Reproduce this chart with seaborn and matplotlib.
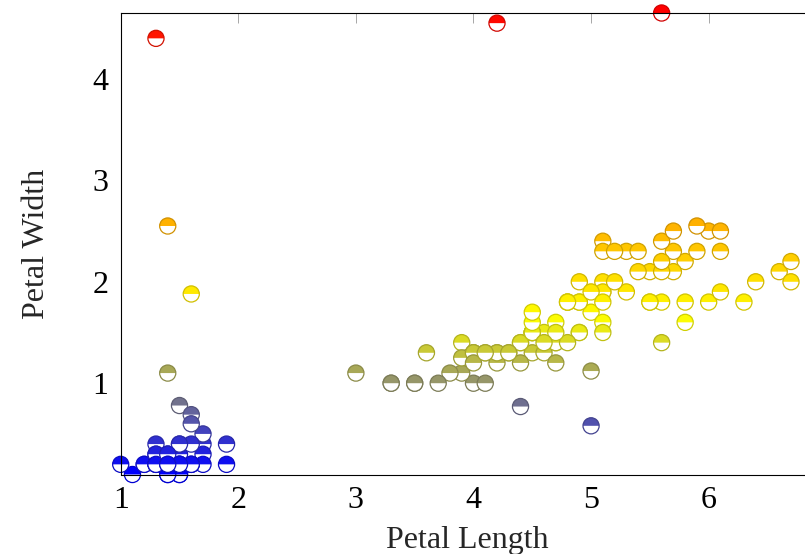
import numpy as np
import pandas as pd
import matplotlib
matplotlib.use("Agg")
import matplotlib.pyplot as plt
from matplotlib.path import Path
from matplotlib.colors import LinearSegmentedColormap
import seaborn as sns

# ---------------- data ----------------
petal_length = [
    1.4, 1.4, 1.3, 1.5, 1.4, 1.7, 1.4, 1.5, 1.4, 1.5,
    1.5, 1.6, 1.4, 1.1, 1.2, 1.5, 1.3, 1.4, 1.7, 1.5,
    1.7, 1.5, 1.0, 1.7, 1.9, 1.6, 1.6, 1.5, 1.4, 1.6,
    1.6, 1.5, 1.5, 1.4, 1.5, 1.2, 1.3, 1.4, 1.3, 1.5,
    1.3, 1.3, 1.3, 1.6, 1.9, 1.4, 1.6, 1.4, 1.5, 1.4,
    4.7, 4.5, 4.9, 4.0, 4.6, 4.5, 4.7, 3.3, 4.6, 3.9,
    3.5, 4.2, 4.0, 4.7, 3.6, 4.4, 4.5, 4.1, 4.5, 3.9,
    4.8, 4.0, 4.9, 4.7, 4.3, 4.4, 4.8, 5.0, 4.5, 3.5,
    3.8, 3.7, 3.9, 5.1, 4.5, 4.5, 4.7, 4.4, 4.1, 4.0,
    4.4, 4.6, 4.0, 3.3, 4.2, 4.2, 4.2, 4.3, 3.0, 4.1,
    6.0, 5.1, 5.9, 5.6, 5.8, 6.6, 4.5, 6.3, 5.8, 6.1,
    5.1, 5.3, 5.5, 5.0, 5.1, 5.3, 5.5, 6.7, 6.9, 5.0,
    5.7, 4.9, 6.7, 4.9, 5.7, 6.0, 4.8, 4.9, 5.6, 5.8,
    6.1, 6.4, 5.6, 5.1, 5.6, 6.1, 5.6, 5.5, 4.8, 5.4,
    5.6, 5.1, 5.1, 5.9, 5.7, 5.2, 5.0, 5.2, 5.4, 5.1,
]
petal_width = [
    2.55, 0.2, 4.4, 0.2, 1.1, 0.4, 0.3, 0.2, 0.2, 0.1,
    0.2, 1.88, 0.1, 0.1, 0.2, 0.78, 0.4, 0.3, 0.3, 0.3,
    0.2, 0.4, 0.2, 0.5, 0.2, 0.69, 0.4, 0.2, 0.2, 0.2,
    0.2, 0.4, 0.1, 0.2, 0.2, 0.2, 0.2, 0.1, 0.2, 0.2,
    0.3, 0.3, 0.2, 0.6, 0.4, 0.3, 0.2, 0.2, 0.2, 0.2,
    1.4, 1.5, 1.5, 1.3, 1.5, 1.3, 1.6, 1.0, 1.3, 1.4,
    1.0, 4.55, 1.0, 1.4, 1.3, 1.4, 1.5, 1.0, 1.5, 1.1,
    1.8, 1.3, 1.5, 1.2, 1.3, 1.4, 1.4, 1.7, 1.5, 1.0,
    1.1, 1.0, 1.25, 1.6, 1.5, 1.6, 1.5, 0.77, 1.3, 1.3,
    1.2, 1.4, 1.2, 1.0, 1.3, 1.2, 1.3, 1.3, 1.1, 1.3,
    2.5, 1.9, 2.55, 1.8, 2.2, 2.1, 1.7, 1.8, 1.8, 2.5,
    2.0, 1.9, 2.1, 0.58, 2.4, 2.3, 1.8, 2.2, 2.3, 1.12,
    2.3, 2.0, 2.0, 1.8, 2.1, 1.8, 1.8, 1.8, 2.1, 1.6,
    1.9, 2.0, 2.2, 1.5, 1.4, 2.3, 4.65, 1.8, 1.8, 2.1,
    2.4, 2.3, 1.9, 2.3, 2.5, 2.3, 1.9, 2.0, 2.3, 1.8,
]
x_ticks = [1, 2, 3, 4, 5, 6]
y_ticks = [1, 2, 3, 4]
x_label = "Petal Length"
y_label = "Petal Width"
colormap_colors = ["#0000ff", "#ffff00", "#ff8000", "#ff0000"]

# ---------------- style ----------------
sns.set_style("white")
plt.rcParams["font.family"] = ["Liberation Serif", "DejaVu Serif"]

W, H, DPI = 805, 554, 100
fig = plt.figure(figsize=(W / DPI, H / DPI), dpi=DPI)
left_px, right_px, top_px, bottom_px = 120.7, 814.5, 13.0, 474.5
ax = fig.add_axes([left_px / W, (H - bottom_px) / H,
                   (right_px - left_px) / W, (bottom_px - top_px) / H])

cmap = LinearSegmentedColormap.from_list("hot_pgf", colormap_colors)
wmin, wmax = min(petal_width), max(petal_width)

# three layers per point, kept in point order so later markers hide earlier ones
layers = ["base", "top", "ring"]
n = len(petal_length)
df = pd.DataFrame({
    "x": np.repeat(petal_length, 3),
    "y": np.repeat(petal_width, 3),
    "layer": layers * n,
})

circle = Path.unit_circle()
half = Path.wedge(0, 180)
markers = {"base": circle, "top": half, "ring": circle}

sns.scatterplot(data=df, x="x", y="y", hue="y", palette=cmap,
                hue_norm=(wmin, wmax), style="layer", markers=markers,
                style_order=layers, s=135, linewidth=0.8, legend=False,
                ax=ax, clip_on=False)

coll = ax.collections[0]
fc = np.array(coll.get_facecolors())
lay = df["layer"].to_numpy()
ec = fc.copy()
ec[:, :3] *= 0.82
new_fc = fc.copy()
new_fc[lay == "base"] = [1, 1, 1, 1]
new_fc[lay == "ring"] = [0, 0, 0, 0]
new_ec = ec.copy()
new_ec[lay != "ring"] = [0, 0, 0, 0]
coll.set_facecolors(new_fc)
coll.set_edgecolors(new_ec)
coll.set_linewidths(0.9)
coll.set_clip_on(False)

ax.set_xlim(min(petal_length), max(petal_length))
ax.set_ylim(wmin, wmax)
ax.set_xticks(x_ticks)
ax.set_yticks(y_ticks)
ax.set_xticklabels([str(t) for t in x_ticks])
ax.set_yticklabels([str(t) for t in y_ticks])
ax.tick_params(direction="in", length=7.5, width=0.6, color="0.6",
               top=True, right=True, labelsize=23, labelcolor="black")
ax.tick_params(axis="x", pad=8)
ax.tick_params(axis="y", pad=9)
for sp in ax.spines.values():
    sp.set_color("black")
    sp.set_linewidth(0.8)
    sp.set_visible(True)
ax.set_xlabel(x_label, fontsize=23, labelpad=8)
ax.set_ylabel(y_label, fontsize=23, labelpad=30)

fig.savefig("out.png", dpi=DPI)
